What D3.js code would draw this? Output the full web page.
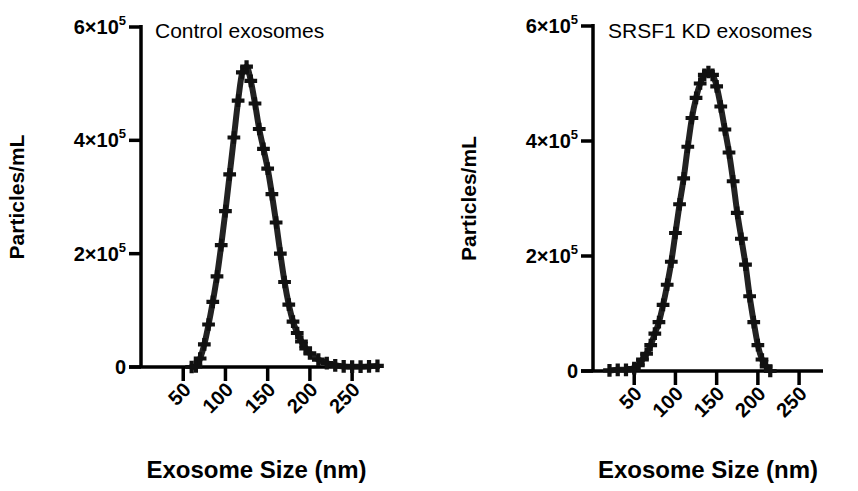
<!DOCTYPE html><html><head><script src="https://d3js.org/d3.v7.min.js"></script>
<style>body{margin:0;background:#fff}text{font-family:"Liberation Sans",Arial,sans-serif}</style></head><body>
<svg id="c" width="858" height="491"></svg>
<script>
const controlSize=[60,65,70,75,80,85,90,95,100,105,110,115,120,125,130,135,140,145,150,155,160,165,170,175,180,185,190,195,200,210,220,230,240,250,260,270,280];
const controlVal=[0,0.01,0.15,0.4,0.75,1.15,1.6,2.15,2.75,3.4,4.05,4.7,5.2,5.3,5.05,4.65,4.2,3.85,3.5,3.05,2.55,2.0,1.5,1.1,0.8,0.6,0.45,0.33,0.24,0.13,0.07,0.03,0.01,0.005,0.005,0.01,0.02];
const kdSize=[20,30,40,50,55,60,65,70,75,80,85,90,95,100,105,110,115,120,125,130,135,140,145,150,155,160,165,170,175,180,185,190,195,200,205,210,215];
const kdVal=[0.01,0.02,0.02,0.05,0.1,0.2,0.3,0.45,0.65,0.85,1.15,1.5,1.9,2.4,2.9,3.35,3.9,4.4,4.75,5.0,5.15,5.2,5.15,4.95,4.6,4.2,3.8,3.3,2.75,2.3,1.85,1.3,0.85,0.45,0.2,0.08,0];
const yTicks=[0,2e5,4e5,6e5];
const xTicks=[50,100,150,200,250];
const svg=d3.select("#c");
function panel(o){
  const g=svg.append("g");
  const x=d3.scaleLinear().domain([0,o.xmax]).range([o.x0,o.x1]);
  const y=d3.scaleLinear().domain([0,6e5]).range([o.y0,o.y6]);
  g.append("line").attr("x1",o.x0).attr("x2",o.x0).attr("y1",o.y0).attr("y2",y(6e5)-2).attr("stroke","#000").attr("stroke-width",3.5);
  g.append("line").attr("x1",o.x0-12).attr("x2",o.x1).attr("y1",o.y0).attr("y2",o.y0).attr("stroke","#000").attr("stroke-width",3.5);
  yTicks.forEach(t=>{
    g.append("line").attr("x1",o.x0-12).attr("x2",o.x0).attr("y1",y(t)).attr("y2",y(t)).attr("stroke","#000").attr("stroke-width",3.5);
    const tx=g.append("text").attr("x",o.x0-15).attr("y",y(t)+7).attr("text-anchor","end").attr("font-weight","bold").attr("font-size",20);
    if(t===0) tx.text("0"); else {tx.append("tspan").text((t/1e5)+"×10");tx.append("tspan").attr("dy",-9).attr("font-size",13).text("5");}
  });
  xTicks.forEach(t=>{
    g.append("line").attr("x1",x(t)).attr("x2",x(t)).attr("y1",o.y0).attr("y2",o.y0+14).attr("stroke","#000").attr("stroke-width",3.5);
    g.append("text").attr("transform",`translate(${x(t)+9},${o.y0+24}) rotate(-45)`).attr("text-anchor","end").attr("font-weight","bold").attr("font-size",20).text(t);
  });
  const pts=o.xs.map((s,i)=>[s,o.vs[i]*1e5]);
  g.append("path").attr("d",d3.line().x(d=>x(d[0])).y(d=>y(d[1])).curve(d3.curveMonotoneX)(pts)).attr("fill","none").attr("stroke","#222").attr("stroke-width",6);
  g.selectAll(null).data(pts).enter().append("path").attr("d",d3.symbol(d3.symbolCross,90)()).attr("transform",d=>`translate(${x(d[0])},${y(d[1])})`).attr("fill","#111");
  g.append("text").attr("x",o.tx).attr("y",38).attr("font-size",21).text(o.title);
  g.append("text").attr("transform",`translate(${o.x0-117},${y(3e5)}) rotate(-90)`).attr("text-anchor","middle").attr("font-weight","bold").attr("font-size",21).text("Particles/mL");
  g.append("text").attr("x",(o.x0+o.x1)/2+o.xt).attr("y",478).attr("text-anchor","middle").attr("font-weight","bold").attr("font-size",24).text("Exosome Size (nm)");
}
panel({x0:141,x1:380,xmax:283,y0:367,y6:27,xs:controlSize,vs:controlVal,title:"Control  exosomes",tx:155,xt:-4});
panel({x0:593,x1:823,xmax:279,y0:371,y6:26,xs:kdSize,vs:kdVal,title:"SRSF1 KD exosomes",tx:608,xt:0});
</script></body></html>
